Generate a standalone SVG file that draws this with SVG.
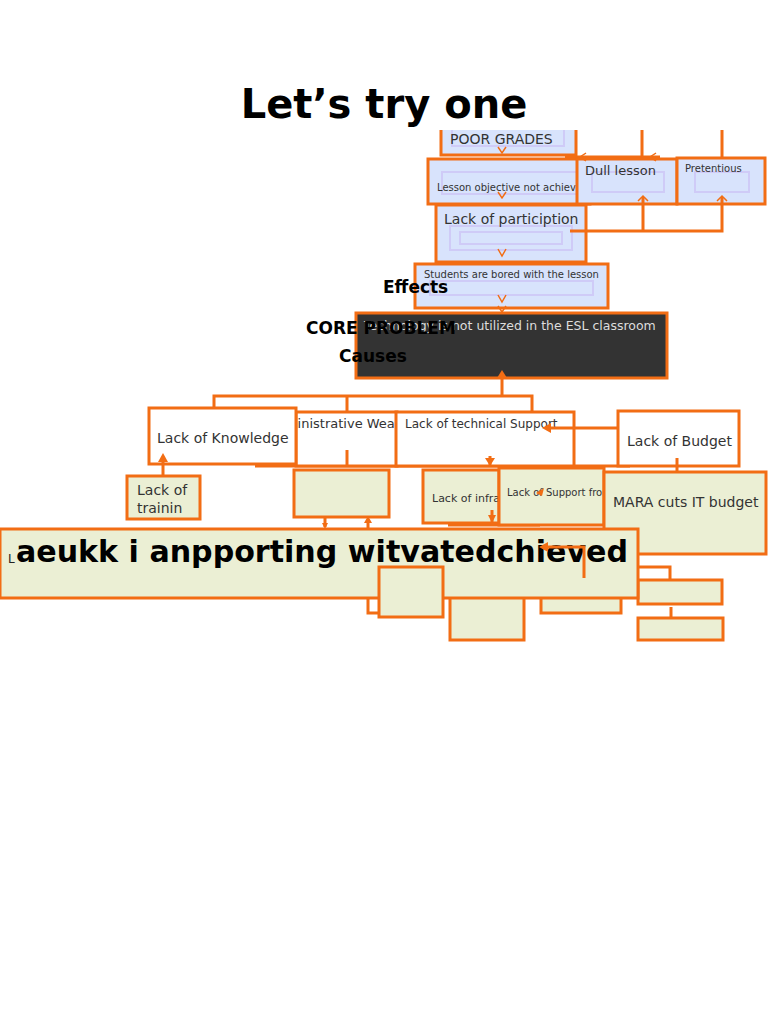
<svg xmlns="http://www.w3.org/2000/svg" width="768" height="1024" viewBox="0 0 768 1024">
<style>
.b{stroke:#F26D14;stroke-width:3;}
.blue{fill:#D8E3FC;}
.beige{fill:#EBEFD4;}
.white{fill:#FFFFFF;}
.in{fill:none;stroke:#CFCBF7;stroke-width:2;}
.c{fill:none;stroke:#F26D14;stroke-width:3;}
.t{font-family:"DejaVu Sans",sans-serif;fill:#333;}
.h{font-family:"DejaVu Sans",sans-serif;font-weight:bold;fill:#000;}
.ar{fill:none;stroke:#F26D14;stroke-width:1.5;}
</style>
<defs>
<clipPath id="clipLO"><rect x="428" y="159" width="152" height="45"/></clipPath>
<clipPath id="clipInfra"><rect x="423" y="470" width="76" height="53"/></clipPath>
<clipPath id="clipSup"><rect x="499" y="468" width="105" height="57"/></clipPath>
<clipPath id="clipAdm"><rect x="297" y="412" width="99" height="54"/></clipPath>
<clipPath id="clipTop"><rect x="0" y="130" width="768" height="900"/></clipPath>
</defs>
<rect width="768" height="1024" fill="#fff"/>
<text class="h" x="384" y="118" font-size="40" text-anchor="middle">Let’s try one</text>

<g clip-path="url(#clipTop)">
<g id="poor-grades">
<rect class="b blue" x="441" y="110" width="135" height="45"/>
<rect class="in" x="452" y="128" width="112" height="18"/>
<text class="t" x="450" y="144" font-size="14">POOR GRADES</text>
</g>
<g id="top-connectors">
<path class="c" d="M642,120 V159 M722,120 V159 M565,157 H660"/>
</g>
</g>

<g id="lesson-objective">
<rect class="b blue" x="428" y="159" width="162" height="45"/>
<rect class="in" x="442" y="172" width="135" height="22"/>
<text class="t" x="437" y="191" font-size="10" clip-path="url(#clipLO)" fill="#111">Lesson objective not achieved</text>
</g>
<g id="dull-lesson">
<rect class="b blue" x="577" y="159" width="100" height="45"/>
<rect class="in" x="592" y="172" width="72" height="20"/>
<text class="t" x="585" y="175" font-size="13">Dull lesson</text>
</g>
<g id="pretentious">
<rect class="b blue" x="677" y="158" width="88" height="46"/>
<rect class="in" x="695" y="172" width="54" height="20"/>
<text class="t" x="685" y="172" font-size="10" fill="#111">Pretentious</text>
</g>
<g id="participation">
<rect class="b blue" x="436" y="205" width="150" height="57"/>
<rect class="in" x="450" y="226" width="122" height="24"/>
<rect class="in" x="460" y="232" width="102" height="12"/>
<text class="t" x="444" y="224" font-size="14">Lack of particiption</text>
</g>
<g id="bored">
<rect class="b blue" x="415" y="264" width="193" height="44"/>
<rect class="in" x="430" y="281" width="163" height="14"/>
<text class="t" x="424" y="278" font-size="10" fill="#111">Students are bored with the lesson</text>
</g>

<text class="h" x="383" y="293" font-size="17">Effects</text>

<g id="core-problem">
<rect x="356" y="313" width="311" height="65" fill="#333" stroke="#F26D14" stroke-width="3"/>
<text x="364" y="330" font-size="12.5" font-family="DejaVu Sans,sans-serif" fill="#ddd">Technology is not utilized in the ESL classroom</text>
</g>
<text class="h" x="306" y="334" font-size="17">CORE PROBLEM</text>
<text class="h" x="339" y="362" font-size="17">Causes</text>

<g id="connectors">
<path class="c" d="M570,231 H722 V198 M643,231 V198"/>
<path class="ar" d="M638,201 L643,196 L648,201 M717,201 L722,196 L727,201"/>
<path class="ar" d="M586,153 L580,157 L586,161 M656,153 L650,157 L656,161"/>
<path class="ar" d="M498,147 L502,153 L506,147 M498,192 L502,198 L506,192 M498,249 L502,256 L506,249 M498,295 L502,302 L506,295 M498,306 L502,312 L506,306"/>
<path class="c" d="M502,378 V396 M214,408 V396 H532 V412 M347,396 V412"/>
<path d="M497,378 L502,370 L507,378 z" fill="#F26D14"/>
<path class="c" d="M255,466 H630" stroke-width="4"/>
<path class="c" d="M325,517 V527" stroke-width="1.5"/>
<path d="M322,523 L325,529 L328,523 z" fill="#F26D14"/>
<path class="c" d="M368,529 V519" stroke-width="2"/>
<path d="M364,523 L368,516 L372,523 z" fill="#F26D14"/>
<path class="c" d="M448,525 H540" stroke-width="4"/>
</g>

<g id="administrative">
<rect class="b white" x="296" y="412" width="101" height="54"/>
<text class="t" x="268" y="428" font-size="13" clip-path="url(#clipAdm)">Administrative Weakness</text>
</g>
<g id="knowledge">
<rect class="b white" x="149" y="408" width="147" height="56"/>
<text class="t" x="157" y="443" font-size="14">Lack of Knowledge</text>
</g>
<g id="technical-support">
<rect class="b white" x="396" y="412" width="178" height="54"/>
<text class="t" x="405" y="428" font-size="12">Lack of technical Support</text>
</g>
<path class="c" d="M347,450 V466"/>
<path class="c" d="M623,428 H550"/>
<path d="M551,423 L542,428 L551,433 z" fill="#F26D14"/>
<g id="budget">
<rect class="b white" x="618" y="411" width="121" height="55"/>
<text class="t" x="627" y="446" font-size="14">Lack of Budget</text>
</g>
<path class="c" d="M677,458 V472"/>
<path class="c" d="M163,476 V460"/>
<path d="M158,462 L163,453 L168,462 z" fill="#F26D14"/>

<g id="training">
<rect class="b beige" x="127" y="476" width="73" height="43"/>
<text class="t" x="137" y="495" font-size="14">Lack of</text>
<text class="t" x="137" y="513" font-size="14">trainin</text>
</g>
<g id="admin-sub">
<rect class="b beige" x="294" y="470" width="95" height="47"/>
</g>
<g id="infra">
<rect class="b beige" x="423" y="470" width="76" height="53"/>
<text class="t" x="432" y="502" font-size="11" clip-path="url(#clipInfra)" fill="#222">Lack of infrastructure</text>
</g>
<path class="c" d="M492,510 V523"/>
<path d="M488,515 L492,523 L496,515 z" fill="#F26D14"/>
<g id="support-from">
<rect class="b beige" x="499" y="468" width="105" height="57"/>
<text class="t" x="507" y="496" font-size="10" clip-path="url(#clipSup)" fill="#111">Lack of Support from</text>
</g>
<path d="M536,493 L544,488 L542,496 z" fill="#F26D14"/>
<g id="mara">
<rect class="b beige" x="604" y="472" width="162" height="82"/>
<text class="t" x="613" y="507" font-size="14">MARA cuts IT budget</text>
</g>
<path class="c" d="M490,456 V466"/>
<path d="M485,458 L490,466 L495,458 z" fill="#F26D14"/>

<g id="bottom-small">
<path class="c" d="M368,598 V613 H379"/>
<rect class="b beige" x="450" y="590" width="74" height="50"/>
<rect class="b beige" x="541" y="590" width="80" height="23"/>
<path class="c" d="M638,567 H670 V580"/>
<rect class="b beige" x="638" y="580" width="84" height="24"/>
<path class="c" d="M671,607 V618" stroke-width="1.5"/>
<rect class="b beige" x="638" y="618" width="85" height="22"/>
</g>

<g id="big-box">
<rect class="b beige" x="0" y="529" width="638" height="69"/>
<text x="8" y="563" font-size="12" font-family="DejaVu Sans,sans-serif" fill="#222">L</text>
<text class="h" x="16" y="562" font-size="30" textLength="612" lengthAdjust="spacingAndGlyphs">aeukk i anpporting witvatedchieved</text>
</g>
<path class="c" d="M584,578 V547 H548"/>
<path d="M548,542 L539,547 L548,552 z" fill="#F26D14"/>
<g id="box-overlap">
<rect class="b beige" x="379" y="567" width="64" height="50"/>
</g>
</svg>
